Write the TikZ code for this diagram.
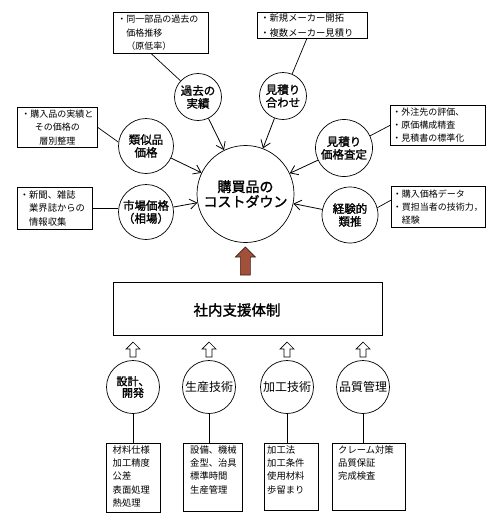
\documentclass[tikz,border=0pt]{standalone}
\usepackage{fontspec}
\setmainfont{Noto Sans CJK JP}[AutoFakeBold=1.5]
\usetikzlibrary{arrows.meta,calc}
\definecolor{arrowbrown}{HTML}{A3503A}
\definecolor{arrowdark}{HTML}{3A2018}
\newcommand{\boxfont}{\fontsize{9}{13.3}\selectfont}
\newcommand{\lowfont}{\fontsize{9.3}{13.4}\selectfont}
\begin{document}
\begin{tikzpicture}[x=1pt,y=-1pt,
  every node/.style={inner sep=0pt},
  circ/.style={circle,draw,line width=0.7pt,align=center,font=\bfseries\fontsize{11.5}{12.8}\selectfont},
  lowcirc/.style={circle,draw,line width=0.7pt,align=center,minimum size=53,font=\fontsize{12}{13}\selectfont},
  cbox/.style={draw,line width=0.7pt,anchor=north west,font=\boxfont,inner ysep=0pt},
  lbox/.style={draw,line width=0.7pt,anchor=north west},
  conn/.style={line width=0.8pt,-{Straight Barb[length=7pt,width=10pt]}},
  link/.style={line width=0.7pt},
  whitearrow/.style={draw,line width=0.7pt,fill=white}
]
\useasboundingbox (0,0) rectangle (500,520);

% central circle
\node[circ,minimum size=97,font=\bfseries\fontsize{14}{15}\selectfont] (ctr) at (245.5,194) {購買品の\\コストダウン};

% surrounding circles
\node[circ,minimum size=47] (past) at (198,97) {過去の\\実績};
\node[circ,minimum size=47] (aimi) at (283,96) {見積り\\合わせ};
\node[circ,minimum size=55] (ruiji) at (146,146) {類似品\\価格};
\node[circ,minimum size=55] (shijo) at (146,212) {市場価格\\（相場）};
\node[circ,minimum size=57] (satei) at (344,148) {見積り\\価格査定};
\node[circ,minimum size=56] (keiken) at (350,215) {経験的\\類推};

% arrows to centre
\draw[conn] (past) -- (ctr);
\draw[conn] (aimi) -- (ctr);
\draw[conn] (ruiji) -- (ctr);
\draw[conn] (shijo) -- (ctr);
\draw[conn] (satei) -- (ctr);
\draw[conn] (keiken) -- (ctr);

% callout boxes
\node[cbox,minimum width=95,minimum height=41,text width=87,inner xsep=4pt,align=left] (n1) at (113,12)
  {・同一部品の過去の\\　価格推移\\　（原低率）};
\node[cbox,minimum width=110,minimum height=26,text width=104,inner xsep=3pt,align=left,font=\fontsize{9.3}{14.5}\selectfont] (n2) at (257,12)
  {・新規メーカー開拓\\・複数メーカー見積り};
\node[cbox,minimum width=80,minimum height=40,text width=76,inner xsep=2pt,align=center] (n3) at (17,107)
  {・購入品の実績と\\その価格の\\層別整理};
\node[cbox,minimum width=75,minimum height=42,text width=70,inner xsep=2.5pt,align=left,font=\fontsize{9.3}{13.5}\selectfont] (n4) at (17,187)
  {・新聞、雑誌\\　業界誌からの\\　情報収集};
\node[cbox,minimum width=95,minimum height=40,text width=91,inner xsep=2pt,align=left,font=\fontsize{9}{13}\selectfont] (n5) at (390,105)
  {・外注先の評価、\\・原価構成精査\\・見積書の標準化};
\node[cbox,minimum width=94,minimum height=41,text width=91,inner xsep=1.5pt,align=left,font=\fontsize{9}{13.3}\selectfont] (n6) at (391,186)
  {・購入価格データ\\・買担当者の技術力，\\　経験};

% callout links
\draw[link] ($(n1.south west)!0.4!(n1.south east)$) -- (past);
\draw[link] ($(n2.south west)!0.45!(n2.south east)$) -- (aimi);
\draw[link] (n3.east) -- (ruiji.172);
\draw[link] (n4.east) -- (n4.east -| shijo.west);
\draw[link] (n5.west) -- (satei.25);
\draw[link] ($(n6.north west)!0.34!(n6.south west)$) -- (keiken.15);

% support box
\node[lbox,line width=0.8pt,minimum width=269,minimum height=53] (sien) at (113,282) {};
\node[font=\bfseries\fontsize{14.5}{15}\selectfont] (sient) at (237,310) {社内支援体制};

% brown arrow from support box to centre
\coordinate (ba) at ($(sien.north)+(-2.5,-7)$);
\draw[line width=0.6pt,draw=arrowdark,fill=arrowbrown]
  (ba) ++(-5,0) -- ++(0,-18) -- ++(-5,0) -- ++(10,-10) -- ++(10,10) -- ++(-5,0) -- ++(0,18) -- cycle;

% lower circles
\node[lowcirc,font=\bfseries\fontsize{11}{11.5}\selectfont] (k1) at (133,387) {設計、\\開発};
\node[lowcirc] (k2) at (209,387) {生産技術};
\node[lowcirc] (k3) at (287,387) {加工技術};
\node[lowcirc] (k4) at (363,387) {品質管理};

% white arrows
\foreach \k in {k1,k2,k3,k4}{
  \coordinate (w\k) at (\k.north |- 0,342);
  \draw[whitearrow] (w\k) -- ++(7,7) -- ++(-4,0) -- ++(0,8) -- ++(-6,0) -- ++(0,-8) -- ++(-4,0) -- cycle;
}

% lower boxes
\node[lbox,minimum width=54,minimum height=69] (d1) at (106,443) {};
\node[lbox,minimum width=59,minimum height=68] (d2) at (183,443) {};
\node[lbox,minimum width=54,minimum height=67] (d3) at (264,443) {};
\node[lbox,minimum width=73,minimum height=67] (d4) at (332,443) {};

\node[anchor=north west,align=left,font=\lowfont] (t1) at ($(d1.north west)+(6.5,2)$) {材料仕様\\加工精度\\公差\\表面処理\\熱処理};
\node[anchor=north west,align=left,font=\lowfont] (t2) at ($(d2.north west)+(7,2)$) {設備、機械\\金型、治具\\標準時間\\生産管理};
\node[anchor=north west,align=left,font=\lowfont] (t3) at ($(d3.north west)+(3,2)$) {加工法\\加工条件\\使用材料\\歩留まり};
\node[anchor=north west,align=left,font=\lowfont] (t4) at ($(d4.north west)+(6,2)$) {クレーム対策\\品質保証\\完成検査};

% links circles to boxes
\draw[link] (k1.south) -- (k1.south |- d1.north);
\draw[link] (k2.south) -- (k2.south |- d2.north);
\draw[link] (k3.south) -- (k3.south |- d3.north);
\draw[link] (k4.south) -- (k4.south |- d4.north);
\end{tikzpicture}
\end{document}
